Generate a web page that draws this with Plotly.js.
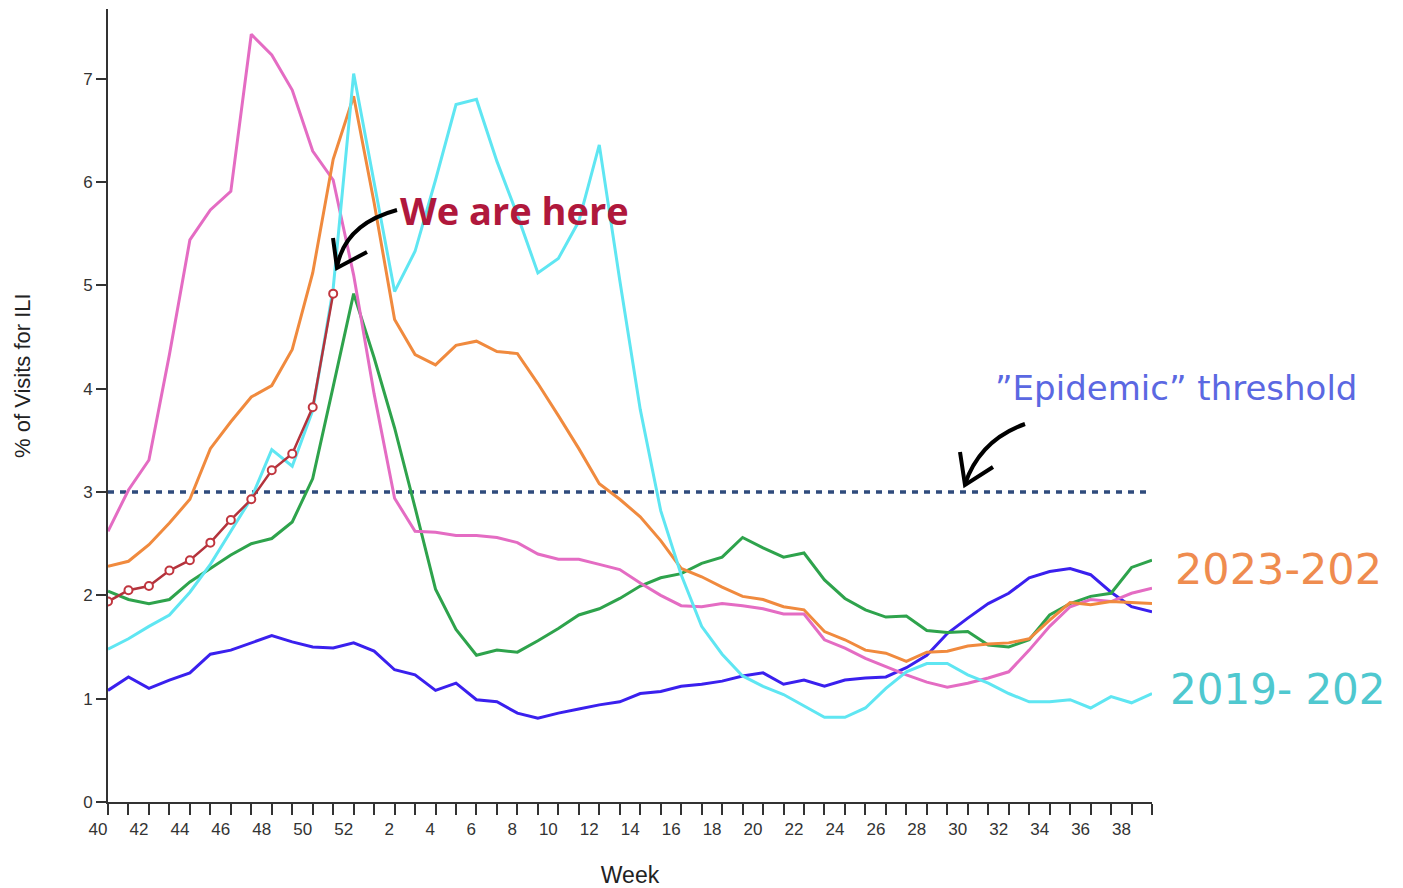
<!DOCTYPE html>
<html>
<head>
<meta charset="utf-8">
<script src="https://cdn.plot.ly/plotly-3.0.1.min.js"></script>
<style>html,body{margin:0;padding:0;background:#fff;}#chart{width:1403px;height:888px;}</style>
</head>
<body>
<div id="chart"></div>
<script>
// Surveillance weeks (season runs week 40 -> week 39)
const weeks = ['40','41','42','43','44','45','46','47','48','49','50','51','52',
  '1','2','3','4','5','6','7','8','9','10','11','12','13','14','15','16','17','18','19',
  '20','21','22','23','24','25','26','27','28','29','30','31','32','33','34','35','36','37','38','39'];
const weekTickLabels = ['40','','42','','44','','46','','48','','50','','52',
  '','2','','4','','6','','8','','10','','12','','14','','16','','18','',
  '20','','22','','24','','26','','28','','30','','32','','34','','36','','38',''];
const yTickValues = [0,1,2,3,4,5,6,7];

// % of visits for ILI, by season
const seasonPink = [2.62,3.02,3.31,4.33,5.44,5.73,5.91,7.43,7.23,6.89,6.30,6.02,5.10,
  3.95,2.94,2.62,2.61,2.58,2.58,2.56,2.51,2.40,2.35,2.35,2.30,2.25,2.12,2.00,1.90,1.89,
  1.92,1.90,1.87,1.82,1.82,1.57,1.49,1.39,1.31,1.23,1.16,1.11,1.15,1.20,1.26,1.47,1.70,
  1.89,1.96,1.94,2.02,2.07];
const season2023 = [2.28,2.33,2.49,2.70,2.93,3.42,3.68,3.92,4.03,4.38,5.12,6.22,6.83,
  5.80,4.67,4.33,4.23,4.42,4.46,4.36,4.34,4.05,3.74,3.42,3.08,2.93,2.76,2.53,2.26,2.18,
  2.08,1.99,1.96,1.89,1.86,1.65,1.57,1.47,1.44,1.36,1.45,1.46,1.51,1.53,1.54,1.58,1.76,
  1.93,1.91,1.94,1.93,1.92];
const season2019 = [1.48,1.58,1.70,1.81,2.03,2.30,2.62,2.94,3.41,3.25,3.79,4.97,7.05,
  6.00,4.94,5.33,6.02,6.75,6.80,6.20,5.68,5.12,5.26,5.62,6.36,5.05,3.80,2.82,2.20,1.70,
  1.43,1.22,1.12,1.04,0.93,0.82,0.82,0.91,1.10,1.26,1.34,1.34,1.23,1.15,1.05,0.97,0.97,
  0.99,0.91,1.02,0.96,1.05];
const seasonGreen = [2.04,1.96,1.92,1.96,2.13,2.26,2.39,2.50,2.55,2.71,3.13,4.02,4.92,
  4.30,3.62,2.85,2.06,1.67,1.42,1.47,1.45,1.56,1.68,1.81,1.87,1.97,2.09,2.17,2.21,2.31,
  2.37,2.56,2.46,2.37,2.41,2.15,1.97,1.86,1.79,1.80,1.66,1.64,1.65,1.52,1.50,1.57,1.81,
  1.92,1.99,2.02,2.27,2.34];
const seasonBlue = [1.08,1.21,1.10,1.18,1.25,1.43,1.47,1.54,1.61,1.55,1.50,1.49,1.54,
  1.46,1.28,1.23,1.08,1.15,0.99,0.97,0.86,0.81,0.86,0.90,0.94,0.97,1.05,1.07,1.12,1.14,
  1.17,1.22,1.25,1.14,1.18,1.12,1.18,1.20,1.21,1.30,1.42,1.63,1.78,1.92,2.02,2.17,2.23,
  2.26,2.20,2.03,1.89,1.84];
const seasonCurrent = [1.94,2.05,2.09,2.24,2.34,2.51,2.73,2.93,3.21,3.37,3.82,4.92];
const epidemicThreshold = 3;

// ---- drawing ----
const L = 108, R = 1152, T = 9, B = 802;
const px = (x, y) => [((x - L) / (R - L)).toFixed(5), ((B - y) / (B - T)).toFixed(5)];
function path(cmds) {
  return cmds.map(c => c[0] + ' ' + c.slice(1).reduce((a, v, i, arr) => {
    if (i % 2 === 0) { const p = px(arr[i], arr[i + 1]); a.push(p[0] + ',' + p[1]); }
    return a;
  }, []).join(' ')).join(' ');
}

function line(y, color, width, name) {
  return {type: 'scatter', mode: 'lines', x: weeks.slice(0, y.length), y: y, name: name,
    line: {color: color, width: width}, hoverinfo: 'x+y', showlegend: false};
}

const traces = [
  {type: 'scatter', mode: 'lines', x: [weeks[0], weeks[weeks.length - 1]],
   y: [epidemicThreshold, epidemicThreshold], name: 'Epidemic threshold',
   line: {color: '#2f4b7c', width: 3.5, dash: '6px,6px'}, showlegend: false, hoverinfo: 'skip'},
  line(seasonBlue, '#3a20ee', 3, 'Season (blue)'),
  line(seasonGreen, '#2ea34c', 3, 'Season (green)'),
  line(seasonPink, '#e46cc3', 3, 'Season (pink)'),
  line(season2023, '#f08a3e', 3, '2023-2024'),
  line(season2019, '#5fe6f2', 3, '2019-2020'),
  {type: 'scatter', mode: 'lines+markers', x: weeks.slice(0, seasonCurrent.length), y: seasonCurrent,
   name: 'Current season', showlegend: false,
   line: {color: '#b3333c', width: 2.5},
   marker: {symbol: 'circle', size: 8, color: '#ffffff', line: {color: '#c0363f', width: 2}}}
];

const baseFont = 'Liberation Sans, Arial, sans-serif';
const bigFont = 'DejaVu Sans, Noto Sans, sans-serif';

const layout = {
  width: 1403, height: 888,
  margin: {l: L, r: 1403 - R, t: T, b: 888 - B},
  paper_bgcolor: '#fff', plot_bgcolor: '#fff',
  showlegend: false,
  xaxis: {
    type: 'category', categoryorder: 'array', categoryarray: weeks,
    range: [0, weeks.length - 1], fixedrange: true,
    tickmode: 'array', tickvals: weeks,
    ticktext: weekTickLabels.map(t => t.length === 1 ? '\u2007' + t : t),
    ticklabelshift: -10, tickangle: 0,
    ticks: 'outside', ticklen: 11, tickwidth: 2, tickcolor: '#333',
    showline: true, linewidth: 2, linecolor: '#333',
    showgrid: false, zeroline: false,
    tickfont: {family: baseFont, color: '#333', size: 17},
    title: {text: 'Week', standoff: 29, font: {family: baseFont, size: 23, color: '#222'}}
  },
  yaxis: {
    range: [0, 7.675], fixedrange: true,
    tickmode: 'array', tickvals: yTickValues, ticktext: yTickValues.map(String),
    ticks: 'outside', ticklen: 10, tickwidth: 2, tickcolor: '#333',
    showline: true, linewidth: 2, linecolor: '#333',
    showgrid: false, zeroline: false,
    tickfont: {family: baseFont, color: '#333', size: 17}
  },
  annotations: [
    {xref: 'paper', yref: 'paper', x: px(22, 375)[0], y: px(22, 375)[1], textangle: -90,
     text: '% of Visits for ILI', showarrow: false, xanchor: 'center', yanchor: 'middle',
     font: {family: baseFont, size: 22, color: '#222'}},
    {xref: 'paper', yref: 'paper', x: px(398, 210)[0], y: px(398, 210)[1],
     text: '<b>We are here</b>', showarrow: false, xanchor: 'left', yanchor: 'middle',
     font: {family: 'Open Sans, Noto Sans, sans-serif', size: 38, color: '#b0183c'}},
    {xref: 'paper', yref: 'paper', x: px(993, 388)[0], y: px(993, 388)[1],
     text: '\u201dEpidemic\u201d threshold', showarrow: false, xanchor: 'left', yanchor: 'middle',
     font: {family: bigFont, size: 34, color: '#5b68e2'}},
    {xref: 'paper', yref: 'paper', x: px(1173, 569)[0], y: px(1173, 569)[1],
     text: '2023-202', showarrow: false, xanchor: 'left', yanchor: 'middle',
     font: {family: bigFont, size: 43, color: '#ef8c4f'}},
    {xref: 'paper', yref: 'paper', x: px(1168, 690)[0], y: px(1168, 690)[1],
     text: '2019- 202', showarrow: false, xanchor: 'left', yanchor: 'middle',
     font: {family: bigFont, size: 42, color: '#4fc8cf'}}
  ],
  shapes: [
    {type: 'path', xref: 'paper', yref: 'paper', line: {color: '#000', width: 4},
     path: path([['M', 397, 210], ['Q', 345, 224, 337, 267]])},
    {type: 'path', xref: 'paper', yref: 'paper', line: {color: '#000', width: 4},
     path: path([['M', 333, 238], ['L', 337, 268], ['L', 367, 252]])},
    {type: 'path', xref: 'paper', yref: 'paper', line: {color: '#000', width: 4},
     path: path([['M', 1025, 424], ['Q', 980, 440, 965, 484]])},
    {type: 'path', xref: 'paper', yref: 'paper', line: {color: '#000', width: 4},
     path: path([['M', 960, 452], ['L', 965, 485], ['L', 993, 467]])}
  ]
};

Plotly.newPlot('chart', traces, layout, {displayModeBar: false, staticPlot: true});
</script>
</body>
</html>
